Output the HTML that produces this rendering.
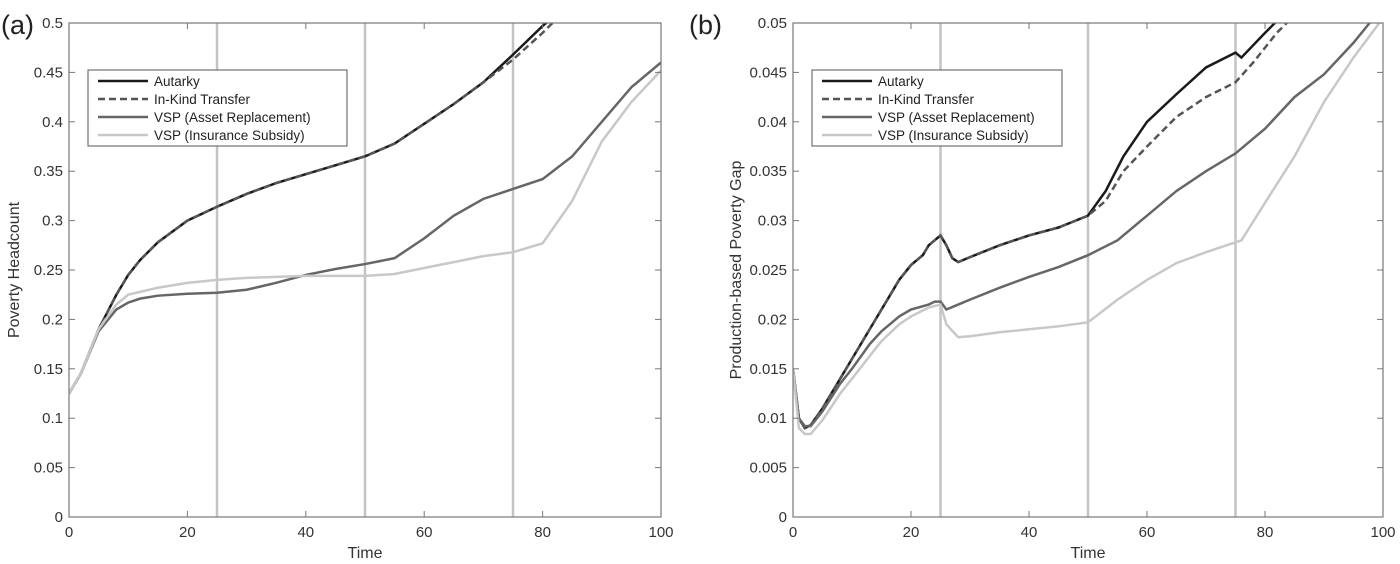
<!DOCTYPE html>
<html><head><meta charset="utf-8"><style>
body{margin:0;background:#fff;}
svg{display:block;font-family:"Liberation Sans",sans-serif;}
</style></head><body>
<svg id="c" width="1400" height="564" xmlns="http://www.w3.org/2000/svg"></svg>
<script>
const tA=[0,2,5,8,10,12,15,20,25,30,35,40,45,50,55,60,65,70,75,80,81];
const aAut=[.125,.145,.19,.225,.245,.26,.278,.3,.314,.327,.338,.347,.356,.365,.378,.398,.418,.44,.468,.497,.502];
const tAk=[0,2,5,8,10,12,15,20,25,30,35,40,45,50,55,60,65,70,75,80,82];
const aInk=[.125,.145,.19,.225,.245,.26,.278,.3,.314,.327,.338,.347,.356,.365,.378,.398,.418,.44,.463,.49,.502];
const tAs=[0,2,5,8,10,12,15,20,25,30,35,40,45,50,55,60,65,70,75,80,85,90,95,100];
const aAsset=[.125,.145,.188,.21,.217,.221,.224,.226,.227,.23,.237,.245,.251,.256,.262,.282,.305,.322,.332,.342,.365,.4,.435,.46];
const tAi=[0,2,5,8,10,15,20,25,30,35,40,45,50,55,60,65,70,75,80,85,90,95,100];
const aIns=[.125,.145,.19,.215,.225,.232,.237,.24,.242,.243,.244,.244,.244,.246,.252,.258,.264,.268,.277,.32,.38,.42,.452];
const tB=[0,1,2,3,5,8,10,13,15,18,20,22,23,25,26,27,28,30,35,40,45,50,53,56,60,65,70,75,76,80,82];
const bAut=[.015,.01,.009,.0093,.011,.014,.016,.019,.021,.024,.0255,.0265,.0275,.0285,.0275,.0262,.0258,.0263,.0275,.0285,.0293,.0305,.033,.0365,.04,.0428,.0455,.047,.0465,.049,.0502];
const tBk=[0,1,2,3,5,8,10,13,15,18,20,22,23,25,26,27,28,30,35,40,45,50,53,56,60,65,70,75,78,82,84];
const bInk=[.015,.01,.009,.0093,.011,.014,.016,.019,.021,.024,.0255,.0265,.0275,.0285,.0275,.0262,.0258,.0263,.0275,.0285,.0293,.0305,.032,.035,.0375,.0405,.0425,.044,.046,.049,.0502];
const tBs=[0,1,2,3,5,8,10,13,15,18,20,23,24,25,26,28,30,35,40,45,50,55,60,65,70,75,80,85,90,95,98];
const bAsset=[.015,.01,.0092,.0092,.0107,.0135,.015,.0175,.0188,.0203,.021,.0215,.0218,.0218,.021,.0215,.022,.0232,.0243,.0253,.0265,.028,.0305,.033,.035,.0368,.0393,.0425,.0448,.048,.0502];
const tBi=[0,1,2,3,5,8,10,13,15,18,20,23,25,26,28,30,35,40,45,50,55,60,65,70,75,76,80,85,90,95,100];
const bIns=[.015,.009,.0084,.0084,.0098,.0125,.014,.0163,.0178,.0195,.0203,.0212,.0215,.0195,.0182,.0183,.0187,.019,.0193,.0197,.022,.024,.0257,.0268,.0278,.028,.0318,.0365,.042,.0465,.0505];
const xTicks=[0,20,40,60,80,100];
const yTicksA=[0,.05,.1,.15,.2,.25,.3,.35,.4,.45,.5];
const yTicksB=[0,.005,.01,.015,.02,.025,.03,.035,.04,.045,.05];
const yLabA=["0","0.05","0.1","0.15","0.2","0.25","0.3","0.35","0.4","0.45","0.5"];
const yLabB=["0","0.005","0.01","0.015","0.02","0.025","0.03","0.035","0.04","0.045","0.05"];
const vlines=[25,50,75];
const legendNames=["Autarky","In-Kind Transfer","VSP (Asset Replacement)","VSP (Insurance Subsidy)"];

const NS="http://www.w3.org/2000/svg";
const svg=document.getElementById('c');
function mk(tag,at,parent){const e=document.createElementNS(NS,tag);for(const k in at)e.setAttribute(k,at[k]);(parent||svg).appendChild(e);return e;}
const styles=[{c:"#1a1a1a",d:""},{c:"#555",d:"7,4"},{c:"#666",d:""},{c:"#c8c8c8",d:""}];

function panel(id,L,R,T,B,ymax,yT,yL,series,ylab,tag,tagX){
  const g=mk('g',{});
  
  
  const X=v=>L+(R-L)*v/100, Y=v=>B-(B-T)*v/ymax;
  const cid='clip'+id;
  const cp=mk('clipPath',{id:cid},g);mk('rect',{x:L,y:T,width:R-L,height:B-T},cp);
  vlines.forEach(v=>{const l=mk('line',{x1:X(v),x2:X(v),y1:T,y2:B,stroke:"#c4c4c4","stroke-width":2.5},g);
    
    });
  series.forEach((s,i)=>{const p=mk('polyline',{points:s[0].map((t,j)=>X(t)+','+Y(s[1][j])).join(' '),fill:'none',stroke:styles[i].c,'stroke-width':2.5,'stroke-dasharray':styles[i].d,'clip-path':`url(#${cid})`},g);
    
    });
  const ax=mk('rect',{x:L,y:T,width:R-L,height:B-T,fill:'none',stroke:'#777','stroke-width':1.2},g);
  
  
  xTicks.forEach(v=>{mk('line',{x1:X(v),x2:X(v),y1:B,y2:B-6,stroke:'#777'},g);mk('line',{x1:X(v),x2:X(v),y1:T,y2:T+6,stroke:'#777'},g);
    const t=mk('text',{x:X(v),y:B+20,'text-anchor':'middle','font-size':15,fill:'#333'},g);t.textContent=v;
    
    });
  yT.forEach((v,i)=>{mk('line',{x1:L,x2:L+6,y1:Y(v),y2:Y(v),stroke:'#777'},g);mk('line',{x1:R,x2:R-6,y1:Y(v),y2:Y(v),stroke:'#777'},g);
    const t=mk('text',{x:L-6,y:Y(v)+5,'text-anchor':'end','font-size':15,fill:'#333'},g);t.textContent=yL[i];
    
    });
  const xt=mk('text',{x:(L+R)/2,y:B+41,'text-anchor':'middle','font-size':16,fill:'#333'},g);xt.textContent='Time';
  
  
  const yx=tag==='(a)'?19:741;
  const yt=mk('text',{x:yx,y:(T+B)/2,'text-anchor':'middle','font-size':16,fill:'#333',transform:`rotate(-90 ${yx} ${(T+B)/2})`},g);yt.textContent=ylab;
  
  
  const pt=mk('text',{x:tagX,y:T+11,'font-size':27,fill:'#222'},g);pt.textContent=tag;
  
  
  const lg=mk('g',{},g);
  
  
  const lx=L+19, ly=T+47, lw=tag==='(a)'?259:250;
  mk('rect',{x:lx,y:ly,width:lw,height:76,fill:'#fff',stroke:'#555','stroke-width':1},lg);
  legendNames.forEach((n,i)=>{const yy=ly+11+i*18;
    mk('line',{x1:lx+10,x2:lx+60,y1:yy,y2:yy,stroke:styles[i].c,'stroke-width':2.5,'stroke-dasharray':styles[i].d},lg);
    const t=mk('text',{x:lx+66,y:yy+5,'font-size':13.5,fill:'#222'},lg);t.textContent=n;
    
    });
}
panel('panel-a',69,661,23,517,.5,yTicksA,yLabA,[[tA,aAut],[tAk,aInk],[tAs,aAsset],[tAi,aIns]],'Poverty Headcount','(a)',1);
panel('panel-b',793,1383,23,517,.05,yTicksB,yLabB,[[tB,bAut],[tBk,bInk],[tBs,bAsset],[tBi,bIns]],'Production-based Poverty Gap','(b)',689);
</script>
</body></html>
